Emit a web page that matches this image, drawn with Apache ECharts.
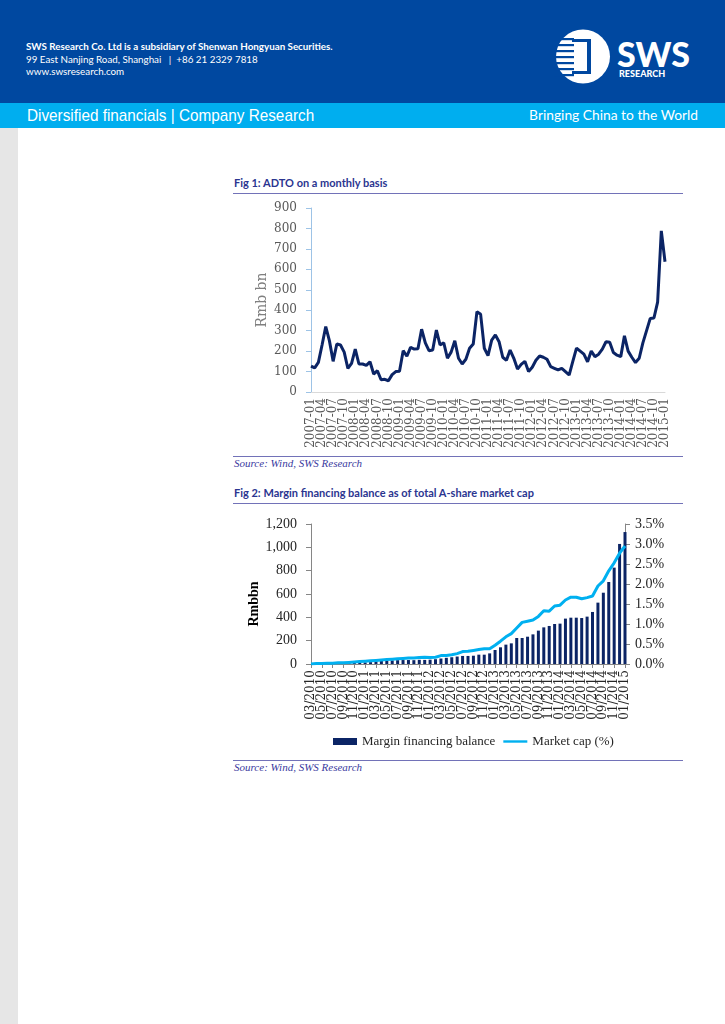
<!DOCTYPE html>
<html><head><meta charset="utf-8">
<script src="https://cdn.jsdelivr.net/npm/echarts@6/dist/echarts.min.js"></script>
<style>
html,body{margin:0;padding:0;width:725px;height:1024px;background:#fff;overflow:hidden;font-family:Lato,"Noto Sans",sans-serif;}
#hdr{position:absolute;left:0;top:0;width:725px;height:103px;background:#0048A0;}
#band{position:absolute;left:0;top:103px;width:725px;height:25px;background:#00AEEF;}
#strip{position:absolute;left:0;top:128px;width:18px;height:896px;background:#E6E6E6;}
.ht{position:absolute;left:26px;color:#fff;font-size:9.8px;white-space:nowrap;}
.figt{position:absolute;left:234px;color:#2B3590;font-weight:bold;font-size:11px;white-space:nowrap;}
.rule{position:absolute;left:233px;width:450px;height:1px;background:#7272B8;}
.src{position:absolute;left:234px;color:#3A3AA0;font-style:italic;font-family:"Liberation Serif",serif;font-size:11px;white-space:nowrap;}
#c1{position:absolute;left:230px;top:195px;width:460px;height:260px;}
#c2{position:absolute;left:230px;top:505px;width:460px;height:250px;}
</style></head><body>
<div id="hdr"></div><div id="band"></div><div id="strip"></div>
<div class="ht" style="top:40px;font-weight:bold;">SWS Research Co. Ltd is a subsidiary of Shenwan Hongyuan Securities.</div>
<div class="ht" style="top:53px;">99 East Nanjing Road, Shanghai &nbsp; | &nbsp;+86 21 2329 7818</div>
<div class="ht" style="top:65px;">www.swsresearch.com</div>
<svg style="position:absolute;left:550px;top:26px;" width="160" height="64" viewBox="0 0 160 64">
  <circle cx="33" cy="30.5" r="27" fill="#fff"/>
  <g fill="#0048A0">
    <rect x="4" y="12" width="20" height="2.2"/><rect x="4" y="18" width="20" height="2.2"/>
    <rect x="4" y="24" width="20" height="2.2"/><rect x="4" y="30" width="20" height="2.2"/>
    <rect x="4" y="36" width="20" height="2.2"/><rect x="4" y="42" width="20" height="2.2"/>
    <rect x="4" y="48" width="20" height="2.2"/>
    <path d="M22 13 L41 13 L41 48 L22 48 L22 45 L37 45 L37 16 L22 16 Z"/>
  </g>
  <text x="67" y="41" fill="#fff" font-family="Lato,'Liberation Sans',sans-serif" font-weight="900" font-size="34">SWS</text>
  <text x="69" y="51" fill="#fff" font-family="Lato,'Liberation Sans',sans-serif" font-weight="900" font-size="9">RESEARCH</text>
</svg>
<div style="position:absolute;left:27px;top:106px;color:#fff;font-family:'Liberation Sans',sans-serif;font-size:17px;white-space:nowrap;transform:scaleX(0.9);transform-origin:left;">Diversified financials | Company Research</div>
<div style="position:absolute;right:27px;top:106px;color:#fff;font-size:13.8px;white-space:nowrap;">Bringing China to the World</div>

<div class="figt" style="top:176px;">Fig 1: ADTO on a monthly basis</div>
<div class="rule" style="top:193px;"></div>
<div class="rule" style="top:456px;"></div>
<div class="src" style="top:457px;">Source: Wind, SWS Research</div>

<div class="figt" style="top:486px;">Fig 2: Margin financing balance as of total A-share market cap</div>
<div class="rule" style="top:503px;"></div>
<div class="rule" style="top:760px;"></div>
<div class="src" style="top:761px;">Source: Wind, SWS Research</div>

<div id="c1"></div><div id="c2"></div>
<script>
// ---- Fig 1 data: ADTO (Rmb bn), monthly 2007-01 .. 2015-01
function monthSeq(y0, m0, y1, m1, fmt) {
  var out = [], y = y0, m = m0;
  while (y < y1 || (y === y1 && m <= m1)) {
    out.push(fmt(y, m < 10 ? '0' + m : '' + m));
    m++; if (m > 12) { m = 1; y++; }
  }
  return out;
}
var adtoMonths = monthSeq(2007, 1, 2015, 1, function (y, m) { return y + '-' + m; });
var adtoValues = [
  127,118,145,230,320,250,150,235,230,195,
  115,140,210,137,137,130,148,88,104,60,
  62,55,85,100,102,202,175,218,210,212,
  307,240,202,205,303,230,241,165,195,251,
  165,137,160,214,235,393,380,214,178,254,
  279,246,170,155,205,165,112,135,150,100,
  121,155,176,170,160,124,116,108,116,100,
  83,150,215,200,185,148,200,173,185,210,
  246,243,193,180,173,275,200,170,144,165,
  240,300,360,362,440,788,637
];
var adtoTicks = [0,100,200,300,400,500,600,700,800,900];
var adtoLabelEvery = 3;

// ---- Fig 2 data: margin financing balance (Rmb bn) & % of market cap, monthly 03/2010 .. 01/2015
var marginMonths = monthSeq(2010, 3, 2015, 1, function (y, m) { return m + '/' + y; });
var marginBalance = [
  0.1,0.7,1.6,3,4.5,6,7.5,9.5,11.5,12.8,
  14,16,22,27,28,31,33,34,34,33,
  36,35,37,41,47,53,58,64,
  69,69,71,80,80,91,120,143,166,177,
  223,223,234,254,286,314,326,343,346,389,
  397,397,394,406,446,526,611,703,826,1029,1131
];
var marketCapPct = [
  0.00,0.01,0.01,0.02,0.02,0.03,0.03,0.04,0.05,0.06,
  0.07,0.08,0.09,0.10,0.11,0.12,0.13,0.14,0.15,0.15,
  0.16,0.17,0.16,0.17,0.21,0.21,0.23,0.26,
  0.31,0.32,0.34,0.36,0.38,0.38,0.47,0.57,0.68,0.76,
  0.90,1.04,1.07,1.10,1.19,1.33,1.32,1.45,1.47,1.60,
  1.67,1.67,1.63,1.66,1.70,1.95,2.08,2.33,2.53,2.77,2.95
];
var marginLabelEvery = 2;
var leftTicks = [0,200,400,600,800,1000,1200];
var rightTicks = [0,0.5,1,1.5,2,2.5,3,3.5];

var serif1 = 'DejaVu Serif';
var serif2 = 'Liberation Serif';

var c1 = echarts.init(document.getElementById('c1'));
c1.setOption({
  animation: false,
  grid: { left: 81, top: 13, width: 354, height: 184 },
  xAxis: {
    type: 'category', data: adtoMonths, boundaryGap: false,
    axisLine: { lineStyle: { color: '#D9D9D9', width: 1 } },
    axisTick: { show: false },
    axisLabel: { rotate: 90, interval: 0, hideOverlap: false,
      formatter: function (v, i) { return i % adtoLabelEvery === 0 ? v : ''; },
      color: '#595959', fontFamily: serif1, fontSize: 12, margin: 6 }
  },
  yAxis: {
    type: 'value', min: adtoTicks[0], max: adtoTicks[adtoTicks.length - 1], interval: 100,
    name: 'Rmb bn', nameLocation: 'middle', nameGap: 42, nameRotate: 90, nameMoveOverlap: false,
    nameTextStyle: { color: '#7F7F7F', fontFamily: serif1, fontSize: 14 },
    axisLine: { show: true, lineStyle: { color: '#9DC3E6', width: 1 } },
    axisTick: { show: true, length: 5, lineStyle: { color: '#9DC3E6' } },
    splitLine: { show: false },
    axisLabel: { color: '#595959', fontFamily: serif1, fontSize: 12, margin: 14 }
  },
  series: [{
    type: 'line', data: adtoValues, symbol: 'none',
    lineStyle: { color: '#0B2465', width: 3 }
  }]
});

var c2 = echarts.init(document.getElementById('c2'));
c2.setOption({
  animation: false,
  grid: { left: 81, top: 19, width: 314, height: 140 },
  legend: {
    left: 98, top: 225, itemGap: 8, itemWidth: 24, itemHeight: 7,
    textStyle: { color: '#262626', fontFamily: serif2, fontSize: 13 },
    data: [
      { name: 'Margin financing balance', icon: 'rect' },
      { name: 'Market cap (%)', icon: 'path://M0 0H30V3H0Z' }
    ]
  },
  xAxis: {
    type: 'category', data: marginMonths, boundaryGap: false,
    axisLine: { lineStyle: { color: '#868686', width: 1 } },
    axisTick: { show: true, interval: 1, length: 4, lineStyle: { color: '#868686' } },
    axisLabel: { rotate: 90, interval: 0, hideOverlap: false,
      formatter: function (v, i) { return i % marginLabelEvery === 0 ? v : ''; },
      color: '#262626', fontFamily: serif1, fontSize: 12, margin: 6 }
  },
  yAxis: [{
    type: 'value', min: 0, max: 1200, interval: 200,
    name: 'Rmbbn', nameLocation: 'middle', nameGap: 50, nameRotate: 90, nameMoveOverlap: false,
    nameTextStyle: { color: '#000', fontFamily: serif2, fontSize: 14, fontWeight: 'bold', padding: [0, 20, 0, 0] },
    axisLine: { show: true, lineStyle: { color: '#868686' } },
    axisTick: { show: true, length: 5, lineStyle: { color: '#868686' } },
    splitLine: { show: false },
    axisLabel: { color: '#262626', fontFamily: serif2, fontSize: 14, margin: 14,
      formatter: function (v) { return v.toLocaleString('en-US'); } }
  }, {
    type: 'value', min: 0, max: 3.5, interval: 0.5, position: 'right',
    axisLine: { show: true, lineStyle: { color: '#868686' } },
    axisTick: { show: true, length: 5, lineStyle: { color: '#868686' } },
    splitLine: { show: false },
    axisLabel: { color: '#262626', fontFamily: serif2, fontSize: 14, margin: 10,
      formatter: function (v) { return v.toFixed(1) + '%'; } }
  }],
  series: [{
    name: 'Margin financing balance', type: 'bar', data: marginBalance, barWidth: 3,
    itemStyle: { color: '#0B2465' }
  }, {
    name: 'Market cap (%)', type: 'line', yAxisIndex: 1, data: marketCapPct, symbol: 'none',
    lineStyle: { color: '#00B0F0', width: 3 }, itemStyle: { color: '#00B0F0' }
  }]
});
</script>
</body></html>
